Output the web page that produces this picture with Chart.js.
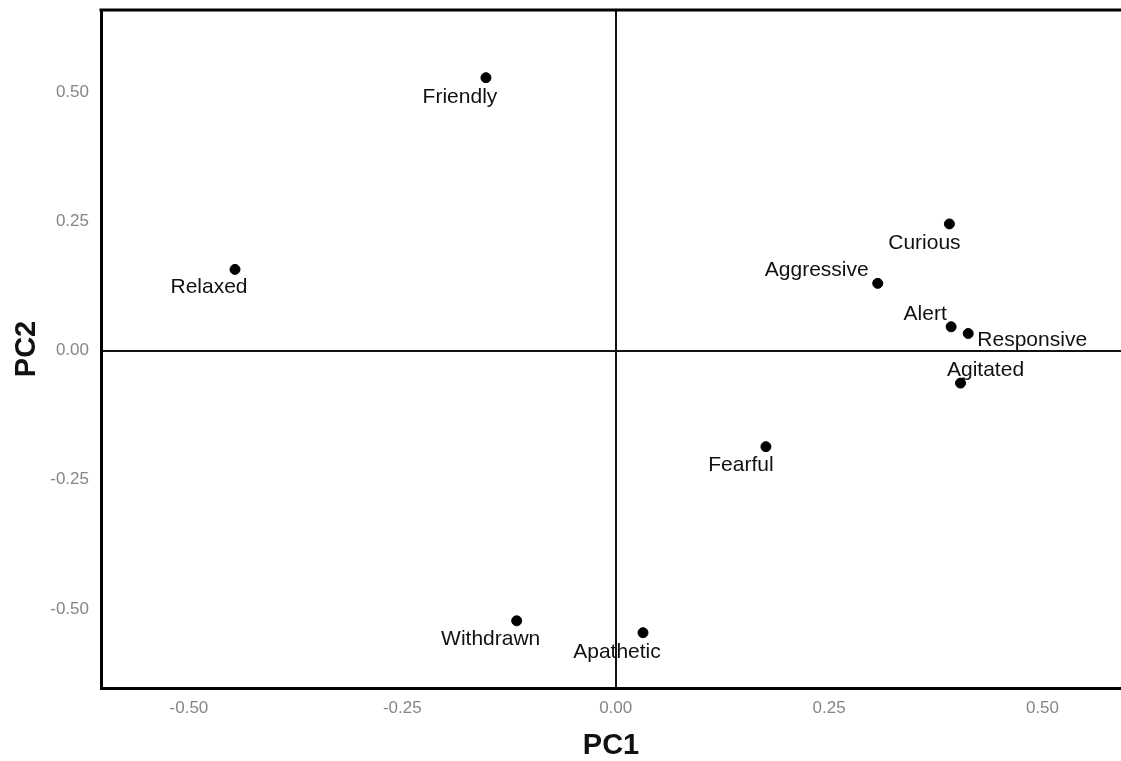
<!DOCTYPE html>
<html>
<head>
<meta charset="utf-8">
<script src="https://cdn.jsdelivr.net/npm/chart.js@4"></script>
<style>
  body { margin: 0; background: #fff; }
</style>
</head>
<body>
<canvas id="myChart" width="1121" height="761"></canvas>
<script>
var traits = ['Friendly', 'Relaxed', 'Curious', 'Aggressive', 'Alert', 'Responsive', 'Agitated', 'Fearful', 'Withdrawn', 'Apathetic'];
var pc1 = [-0.152, -0.446, 0.391, 0.307, 0.393, 0.413, 0.404, 0.176, -0.116, 0.032];
var pc2 = [0.528, 0.157, 0.245, 0.130, 0.046, 0.033, -0.063, -0.186, -0.523, -0.546];
var xTicks = [-0.50, -0.25, 0.00, 0.25, 0.50];
var yTicks = [-0.50, -0.25, 0.00, 0.25, 0.50];

// where each label sits relative to its dot (text centre, px)
var labelShift = [[-26, 20], [-26, 18], [-25, 19], [-61, -13], [-26, -13], [64, 7], [25, -13], [-25, 19], [-26, 18], [-26, 19]];

var points = traits.map(function (t, i) { return { x: pc1[i], y: pc2[i] }; });

var pointLabels = {
  id: 'pointLabels',
  afterDatasetsDraw: function (chart) {
    var ctx = chart.ctx;
    var meta = chart.getDatasetMeta(0);
    ctx.save();
    ctx.font = '21px "Liberation Sans", Arial, sans-serif';
    ctx.fillStyle = '#111';
    ctx.textAlign = 'center';
    ctx.textBaseline = 'middle';
    meta.data.forEach(function (pt, i) {
      ctx.fillText(traits[i], pt.x + labelShift[i][0], pt.y + labelShift[i][1]);
    });
    ctx.restore();
  }
};

var topFrame = {
  id: 'topFrame',
  afterDraw: function (chart) {
    var a = chart.chartArea;
    var ctx = chart.ctx;
    ctx.save();
    ctx.strokeStyle = '#000';
    ctx.lineWidth = 3;
    ctx.beginPath();
    ctx.moveTo(a.left - 1.5, a.top);
    ctx.lineTo(chart.width, a.top);
    ctx.stroke();
    ctx.restore();
  }
};

function zeroLine(c) {
  return c.tick && c.tick.value === 0 ? '#111' : 'rgba(0,0,0,0)';
}

function renderChart() {
  var ctx = document.getElementById('myChart').getContext('2d');
  new Chart(ctx, {
    type: 'scatter',
    data: {
      datasets: [{
        label: 'Traits',
        data: points,
        backgroundColor: '#000',
        borderColor: '#000',
        pointRadius: 5,
        pointHoverRadius: 5,
        clip: false
      }]
    },
    options: {
      responsive: false,
      animation: false,
      layout: { autoPadding: false, padding: { top: 10, right: 0, bottom: 0, left: 0 } },
      plugins: { legend: { display: false }, tooltip: { enabled: false } },
      scales: {
        x: {
          type: 'linear',
          min: -0.603,
          max: 0.592,
          afterBuildTicks: function (s) { s.ticks = xTicks.map(function (v) { return { value: v }; }); },
          afterFit: function (s) { s.height = 73; s.paddingLeft = 0; s.paddingRight = 0; },
          ticks: {
            padding: 10,
            color: '#858585',
            font: { family: '"Liberation Sans", Arial, sans-serif', size: 17 },
            callback: function (v) { return Number(v).toFixed(2); }
          },
          grid: { drawTicks: false, color: zeroLine, lineWidth: 2 },
          border: { display: true, color: '#000', width: 3 },
          title: {
            display: true,
            text: 'PC1',
            color: '#111',
            padding: { top: 0, bottom: 1 },
            font: { family: '"Liberation Sans", Arial, sans-serif', size: 29, weight: 'bold', lineHeight: 1 }
          }
        },
        y: {
          type: 'linear',
          min: -0.653,
          max: 0.659,
          afterBuildTicks: function (s) { s.ticks = yTicks.map(function (v) { return { value: v }; }); },
          afterFit: function (s) { s.width = 101; s.paddingTop = 0; s.paddingBottom = 0; },
          ticks: {
            padding: 12,
            color: '#858585',
            font: { family: '"Liberation Sans", Arial, sans-serif', size: 17 },
            callback: function (v) { return Number(v).toFixed(2); }
          },
          grid: { drawTicks: false, color: zeroLine, lineWidth: 2 },
          border: { display: true, color: '#000', width: 3 },
          title: {
            display: true,
            text: 'PC2',
            color: '#111',
            padding: { top: 12, bottom: 0 },
            font: { family: '"Liberation Sans", Arial, sans-serif', size: 29, weight: 'bold', lineHeight: 1 }
          }
        }
      }
    },
    plugins: [pointLabels, topFrame]
  });
}

renderChart();
</script>
</body>
</html>
